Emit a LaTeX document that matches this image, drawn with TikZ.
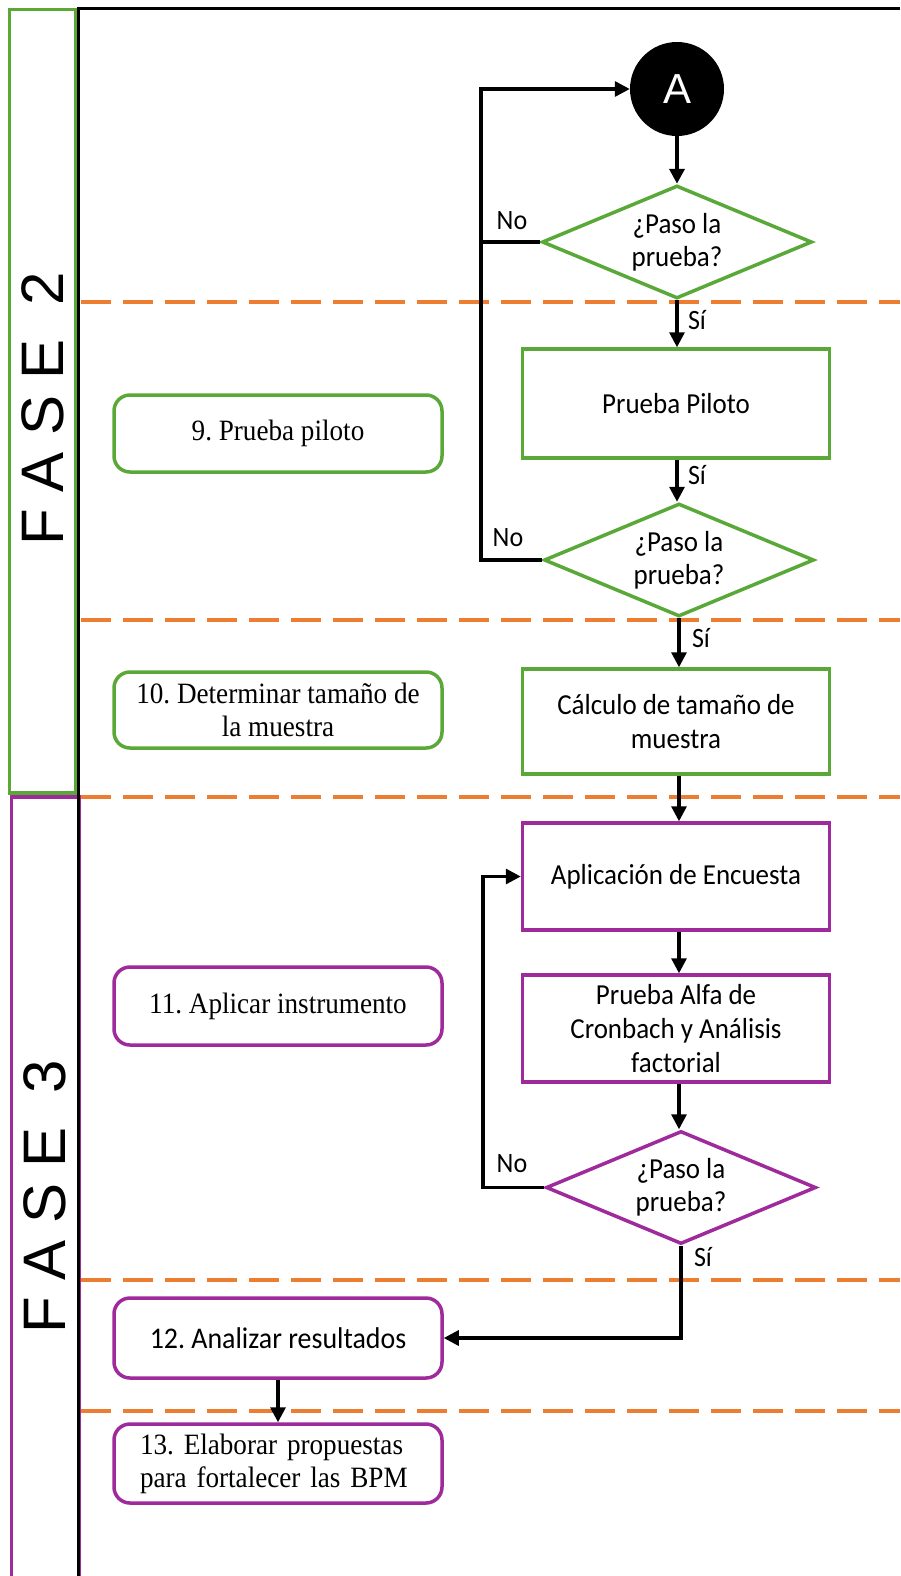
\documentclass[tikz,border=0pt]{standalone}
\usepackage{fontspec}
\setmainfont{Liberation Serif}[FakeStretch=0.92]
\newfontfamily\calfont{Carlito}[FakeStretch=0.93]
\newfontfamily\arfont{Liberation Sans}
\usetikzlibrary{shapes.geometric,arrows.meta}
\definecolor{fgreen}{RGB}{90,168,55}
\definecolor{fpurple}{RGB}{158,42,155}
\definecolor{forange}{RGB}{237,125,49}
\frenchspacing
\tikzset{
  flow/.style={draw=#1, line width=3.5pt, rectangle, minimum width=307pt, align=center,
    font=\calfont\fontsize{29}{34}\selectfont, inner sep=4pt},
  decide/.style={draw=#1, line width=3.5pt, diamond, aspect=2.4, minimum width=270pt,
    minimum height=113pt, inner sep=0pt, align=center, font=\calfont\fontsize{29}{33}\selectfont},
  task/.style={draw=#1, line width=3.5pt, rectangle, rounded corners=16pt, minimum width=328pt,
    align=center, font=\fontsize{29.5}{33}\selectfont, inner sep=4pt},
  conn/.style={draw=black, line width=3.2pt, -{Triangle[length=15pt,width=15pt]}},
  plainconn/.style={draw=black, line width=3.2pt},
  lbl/.style={font=\calfont\fontsize{28}{30}\selectfont, inner sep=0pt},
  sep/.style={draw=forange, line width=3.2pt, dash pattern=on 30pt off 12pt},
  phase/.style={font=\arfont\fontsize{60}{60}\selectfont, rotate=90, inner sep=0pt}
}
\begin{document}
\begin{tikzpicture}[x=1pt,y=-1pt]
\useasboundingbox (0,0) rectangle (900,1576);

% lane frames
\draw[fgreen, line width=3.5pt] (9.5,9.5) rectangle (76,793);
\draw[fpurple, line width=3.5pt] (11.5,797) rectangle (79,1590);
\draw[black, line width=3.5pt] (78.5,1576) -- (78.5,8.5) -- (900,8.5);
\node[phase] (f2) at (43,409) {F A S E \ 2};
\node[phase] (f3) at (45,1197) {F A S E \ 3};

% separators between steps
\foreach \yy in {302,620,797,1280,1411}
  \draw[sep] (81,\yy) -- (900,\yy);

% connector A
\node[circle, fill=black, minimum size=94pt, inner sep=0pt, text=white,
      font=\arfont\fontsize{42}{42}\selectfont] (A) at (677,89) {A};

% right column
\node[decide=fgreen] (d1) at (677,242) {¿Paso la\\prueba?};
\node[flow=fgreen, minimum height=109pt] (pp) at (676,403.5) {Prueba Piloto};
\node[decide=fgreen] (d2) at (679,560) {¿Paso la\\prueba?};
\node[flow=fgreen, minimum height=105pt] (calc) at (676,721.5) {Cálculo de tamaño de\\muestra};
\node[flow=fpurple, minimum height=107pt] (apl) at (676,876.5) {Aplicación de Encuesta};
\node[flow=fpurple, minimum height=107pt] (alfa) at (676,1028.5) {Prueba Alfa de\\Cronbach y Análisis\\factorial};
\node[decide=fpurple] (d3) at (681,1187.5) {¿Paso la\\prueba?};

% left column
\node[task=fgreen, minimum height=77pt] (b9) at (278,433.5) {9. Prueba piloto};
\node[task=fgreen, minimum height=76pt] (b10) at (278,710) {10. Determinar tamaño de\\la muestra};
\node[task=fpurple, minimum height=78pt] (b11) at (278,1006) {11. Aplicar instrumento};
\node[task=fpurple, minimum height=80pt, font=\calfont\fontsize{30}{33}\selectfont] (b12) at (278,1338) {12. Analizar resultados};
\node[task=fpurple, minimum height=79pt, text width=276pt, align=left] (b13) at (278,1463.5) {13. Elaborar propuestas\\para fortalecer las BPM};

% loop coordinates
\coordinate (lp) at (481,0);
\coordinate (lq) at (483,0);

% connectors
\draw[conn, line width=4pt] (A) -- (d1);
\draw[conn] (d1.south) -- (d1.south |- pp.north);
\draw[conn] (pp.south -| d1.south) -- (d2.north -| d1.south);
\draw[conn] (d2.south) -- (d2.south |- calc.north);
\draw[conn] (calc.south -| d2.south) -- (apl.north -| d2.south);
\draw[conn] (apl.south -| d2.south) -- (alfa.north -| d2.south);
\draw[conn] (alfa.south -| d2.south) -- (d3.north -| d2.south);
\draw[conn] (d3.south) |- (b12.east);
\draw[conn] (b12.south) -- (b13.north);
\draw[conn] (d1.west) -- (d1.west -| lp) |- (A.west);
\draw[plainconn] (d2.west) -- (d2.west -| lp) -- (d1.west -| lp);
\draw[conn] (d3.west) -- (d3.west -| lq) |- (apl.west);

% branch labels
\node[lbl] (no1) at (512,221) {No};
\node[lbl] (no2) at (508,538) {No};
\node[lbl] (no3) at (512,1164) {No};
\node[lbl] (si1) at (697,320) {Sí};
\node[lbl] (si2) at (697,475) {Sí};
\node[lbl] (si3) at (701,638) {Sí};
\node[lbl] (si4) at (703,1257) {Sí};
\end{tikzpicture}
\end{document}
